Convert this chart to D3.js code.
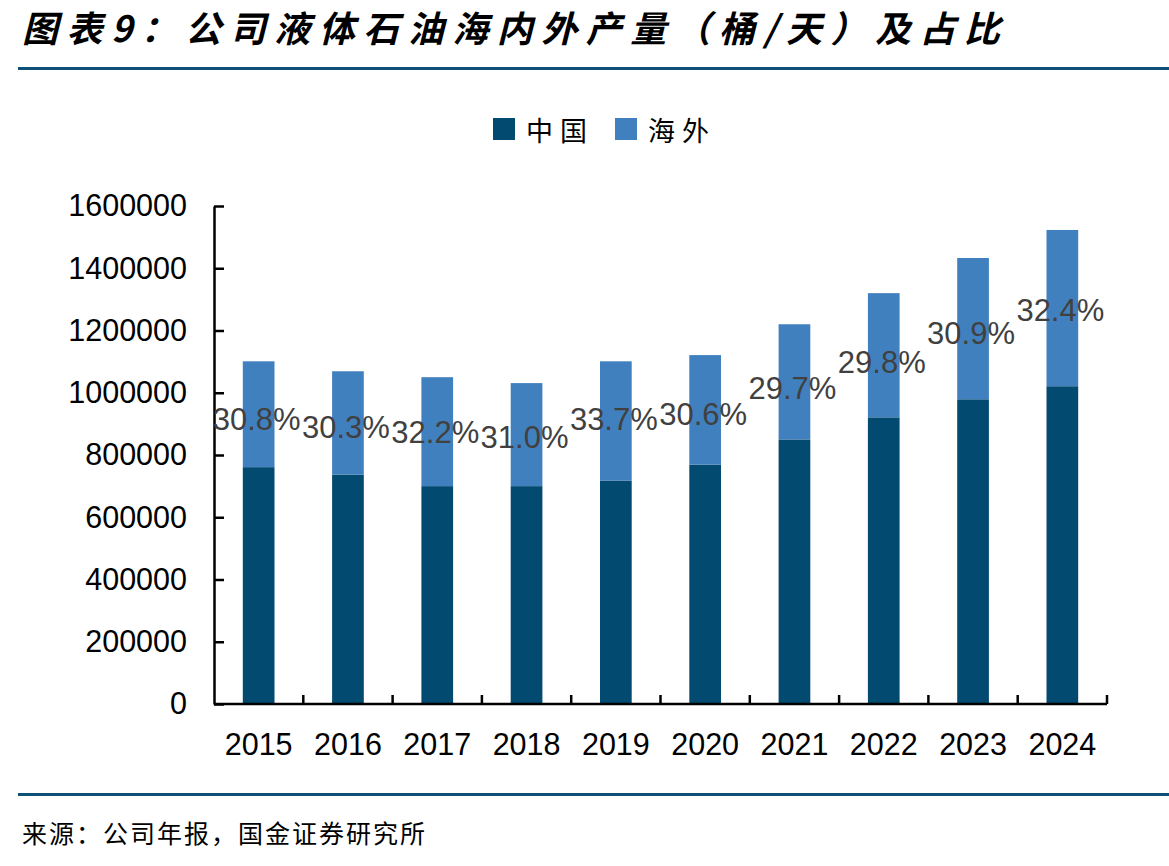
<!DOCTYPE html>
<html>
<head>
<meta charset="utf-8">
<script src="https://cdn.jsdelivr.net/npm/d3@7"></script>
<style>
    body { margin: 0; background: #fff; }
    svg { display: block; }
    .tick text { font-family: "Liberation Sans", Arial, sans-serif; }
</style>
</head>
<body>
<script>
(function(){

    //chart data
    var years = ["2015","2016","2017","2018","2019","2020","2021","2022","2023","2024"];
    var china = [761000, 737000, 700000, 700000, 718000, 769000, 850000, 921000, 979000, 1021000];
    var overseas = [340000, 332000, 350000, 331000, 383000, 352000, 370000, 399000, 454000, 502000];
    var shareLabels = ["30.8%","30.3%","32.2%","31.0%","33.7%","30.6%","29.7%","29.8%","30.9%","32.4%"];
    var yTicks = [0, 200000, 400000, 600000, 800000, 1000000, 1200000, 1400000, 1600000];
    var seriesNames = ["中国", "海外"];
    var colors = ["#034a70", "#4180be"];

    var width = 1169, height = 866;
    var left = 214, right = 1107, top = 206, bottom = 704;

    var svg = d3.select("body")
        .append("svg")
        .attr("width", width)
        .attr("height", height);

    //title and rules
    svg.append("text")
        .attr("x", 22)
        .attr("y", 42)
        .attr("textLength", 978)
        .attr("lengthAdjust", "spacing")
        .style("font-family", "'Noto Sans CJK SC', sans-serif")
        .style("font-size", "36px")
        .style("font-weight", "bold")
        .style("font-style", "italic")
        .attr("fill", "#000")
        .text("图表9：公司液体石油海内外产量（桶/天）及占比");

    svg.append("rect")
        .attr("x", 18).attr("y", 67)
        .attr("width", width - 18).attr("height", 3)
        .attr("fill", "#0f5077");

    svg.append("rect")
        .attr("x", 18).attr("y", 793)
        .attr("width", width - 18).attr("height", 3)
        .attr("fill", "#0f5077");

    svg.append("text")
        .attr("x", 22)
        .attr("y", 843)
        .style("font-family", "'Noto Sans CJK SC', sans-serif")
        .style("font-size", "25px")
        .style("letter-spacing", "2px")
        .attr("fill", "#000")
        .text("来源：公司年报，国金证券研究所");

    //scales
    var x = d3.scaleBand()
        .domain(years)
        .range([left, right])
        .paddingInner(0.645)
        .paddingOuter(0.3225);

    var y = d3.scaleLinear()
        .domain([0, 1600000])
        .range([bottom, top]);

    //stack the two series
    var rows = years.map(function(yr, i){
        return {year: yr, china: china[i], overseas: overseas[i], label: shareLabels[i]};
    });
    var stacked = d3.stack().keys(["china", "overseas"])(rows);

    svg.selectAll(".series")
        .data(stacked)
        .enter()
        .append("g")
        .attr("class", "series")
        .attr("fill", function(d, i){ return colors[i]; })
        .selectAll("rect")
        .data(function(d){ return d; })
        .enter()
        .append("rect")
        .attr("x", function(d){ return x(d.data.year); })
        .attr("width", x.bandwidth())
        .attr("y", function(d){ return y(d[1]); })
        .attr("height", function(d){ return y(d[0]) - y(d[1]); });

    //y axis, ticks pointing inward
    var yAxis = d3.axisLeft(y)
        .tickValues(yTicks)
        .tickSizeInner(-10)
        .tickSizeOuter(0)
        .tickPadding(27)
        .tickFormat(d3.format("d"));

    var yg = svg.append("g")
        .attr("transform", "translate(" + left + ",0)")
        .call(yAxis);
    yg.selectAll("line, path").attr("stroke", "#000").attr("stroke-width", 2.5);
    yg.selectAll("text").style("font-size", "30.5px").attr("fill", "#000");

    //x axis labels
    var xAxis = d3.axisBottom(x).tickSize(0).tickPadding(29);
    var xg = svg.append("g")
        .attr("transform", "translate(0," + bottom + ")")
        .call(xAxis);
    xg.select("path").remove();
    xg.selectAll("text").style("font-size", "30.5px").attr("fill", "#000");

    //x axis line and category boundary ticks
    svg.append("line")
        .attr("x1", left).attr("x2", right)
        .attr("y1", bottom).attr("y2", bottom)
        .attr("stroke", "#000").attr("stroke-width", 2.5);

    svg.selectAll(".xbound")
        .data(years)
        .enter()
        .append("line")
        .attr("class", "xbound")
        .attr("x1", function(d){ return x(d) + x.bandwidth() / 2 + x.step() / 2; })
        .attr("x2", function(d){ return x(d) + x.bandwidth() / 2 + x.step() / 2; })
        .attr("y1", bottom)
        .attr("y2", bottom - 9)
        .attr("stroke", "#000").attr("stroke-width", 2.5);

    //share labels
    svg.selectAll(".share")
        .data(rows)
        .enter()
        .append("text")
        .attr("class", "share")
        .attr("x", function(d){ return x(d.year) + x.bandwidth() / 2 - 2; })
        .attr("y", function(d){ return y((d.china + d.overseas) * 0.83); })
        .attr("text-anchor", "middle")
        .attr("dominant-baseline", "central")
        .style("font-family", "'Liberation Sans', Arial, sans-serif")
        .style("font-size", "31px")
        .attr("fill", "#404040")
        .text(function(d){ return d.label; });

    //legend
    var legend = svg.selectAll(".legend")
        .data(seriesNames)
        .enter()
        .append("g")
        .attr("class", "legend")
        .attr("transform", function(d, i){ return "translate(" + (493 + i * 122) + ",118)"; });

    legend.append("rect")
        .attr("width", 22)
        .attr("height", 22)
        .attr("fill", function(d, i){ return colors[i]; });

    legend.append("text")
        .attr("x", 33)
        .attr("y", 11)
        .attr("dominant-baseline", "central")
        .style("font-family", "'Noto Sans CJK SC', sans-serif")
        .style("font-size", "27px")
        .style("letter-spacing", "7px")
        .attr("fill", "#000")
        .text(function(d){ return d; });

})();
</script>
</body>
</html>
